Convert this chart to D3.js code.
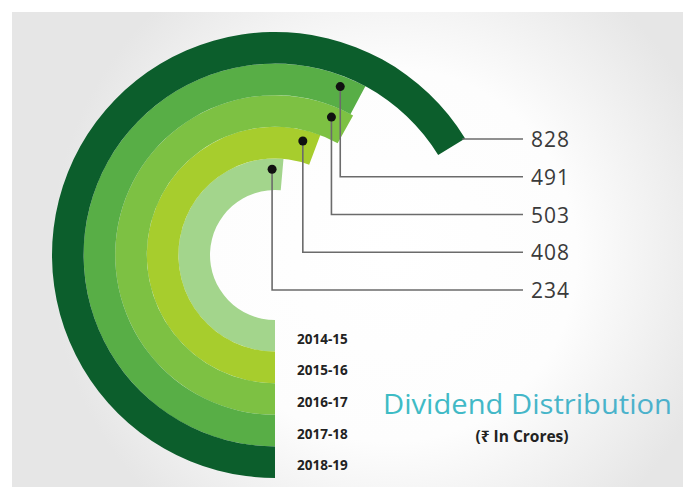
<!DOCTYPE html>
<html>
<head>
<meta charset="utf-8">
<script src="https://cdn.jsdelivr.net/npm/d3@7"></script>
<style>
  html, body { margin: 0; padding: 0; background: #ffffff; }
  svg { display: block; }
</style>
</head>
<body>
<svg id="chart" width="687" height="491"></svg>
<script>
// ---- data ----
const years  = ["2014-15", "2015-16", "2016-17", "2017-18", "2018-19"];
const values = [234, 408, 503, 491, 828];
const colors = ["#a3d58c", "#a7cd2d", "#7dc143", "#58ae46", "#0c5e2c"];
const titleText = "Dividend Distribution";
const subtitleText = "(₹ In Crores)";

const data = years.map((y, i) => ({ year: y, value: values[i], color: colors[i] }));

const W = 687, H = 491;
const cx = 275, cy = 255;
const svg = d3.select("#chart");
const deg = Math.PI / 180;

// background
const defs = svg.append("defs");
const bg = defs.append("radialGradient").attr("id", "bgGlow")
  .attr("gradientUnits", "userSpaceOnUse")
  .attr("cx", 390).attr("cy", 255).attr("r", 340);
bg.append("stop").attr("offset", 0).attr("stop-color", "#ffffff");
bg.append("stop").attr("offset", 0.55).attr("stop-color", "#fdfdfd");
bg.append("stop").attr("offset", 1).attr("stop-color", "#e6e6e6");
svg.append("rect").attr("x", 12).attr("y", 12).attr("width", 671).attr("height", 475)
  .attr("fill", "url(#bgGlow)");

const tg = defs.append("linearGradient").attr("id", "titleGrad")
  .attr("x1", 0).attr("x2", 1).attr("y1", 0).attr("y2", 0);
tg.append("stop").attr("offset", 0).attr("stop-color", "#3dbcc4");
tg.append("stop").attr("offset", 1).attr("stop-color", "#4db0cc");

// scales
const rScale = d3.scaleBand().domain(years).range([65, 223]).paddingInner(0);
const aScale = d3.scaleLinear().domain([0, d3.max(values)]).range([-16 * deg, 58.5 * deg]);

const g = svg.append("g").attr("transform", `translate(${cx},${cy})`);

const arc = d3.arc()
  .innerRadius(d => rScale(d.year))
  .outerRadius(d => rScale(d.year) + rScale.bandwidth())
  .startAngle(-Math.PI)
  .endAngle(d => aScale(d.value));

g.selectAll("path.ring").data(data).join("path")
  .attr("class", "ring")
  .attr("d", arc)
  .attr("fill", d => d.color);

// label rows (outer ring on top)
const rowOrder = years.slice().reverse();
const yRow = d3.scalePoint().domain(rowOrder).range([139, 290]);
const lineEndX = 523;

const outerYear = years[years.length - 1];
data.forEach(d => {
  const ly = yRow(d.year);
  const a = aScale(d.value);
  if (d.year === outerYear) {
    const r = (cy - ly) / Math.cos(a);
    const sx = cx + r * Math.sin(a);
    svg.append("line").attr("x1", sx - 2).attr("x2", lineEndX)
      .attr("y1", ly).attr("y2", ly)
      .attr("stroke", "#6b6b6b").attr("stroke-width", 1.6);
  } else {
    const da = a - 7 * deg;
    const r = rScale(d.year) + rScale.bandwidth() / 2 + 5;
    const px = cx + r * Math.sin(da);
    const py = cy - r * Math.cos(da);
    svg.append("path")
      .attr("d", `M${px},${py}V${ly}H${lineEndX}`)
      .attr("fill", "none").attr("stroke", "#6b6b6b").attr("stroke-width", 1.6);
    svg.append("circle").attr("cx", px).attr("cy", py).attr("r", 4.5).attr("fill", "#111");
  }
  svg.append("text").attr("x", 531).attr("y", ly)
    .attr("dominant-baseline", "central")
    .attr("font-family", "'Open Sans', 'Noto Sans', sans-serif")
    .attr("font-size", 21).attr("letter-spacing", 1)
    .attr("fill", "#3a3a3a")
    .text(d.value);
});

// year labels at the bottom ends of rings
g.selectAll("text.year").data(data).join("text")
  .attr("class", "year")
  .attr("x", 297 - cx)
  .attr("y", d => rScale(d.year) + rScale.bandwidth() / 2 + 3)
  .attr("dominant-baseline", "central")
  .attr("font-family", "'Open Sans', 'Noto Sans', sans-serif")
  .attr("font-weight", "bold").attr("font-size", 13.5)
  .attr("fill", "#222")
  .text(d => d.year);

// title
svg.append("text").attr("x", 383).attr("y", 403)
  .attr("dominant-baseline", "central")
  .attr("font-family", "'Open Sans', 'Noto Sans', sans-serif")
  .attr("font-size", 27)
  .attr("textLength", 289).attr("lengthAdjust", "spacingAndGlyphs")
  .attr("fill", "url(#titleGrad)")
  .text(titleText);

svg.append("text").attr("x", 522).attr("y", 436)
  .attr("text-anchor", "middle").attr("dominant-baseline", "central")
  .attr("font-family", "'Open Sans', 'Noto Sans', sans-serif")
  .attr("font-weight", "bold").attr("font-size", 15.5)
  .attr("fill", "#222")
  .text(subtitleText);
</script>
</body>
</html>
